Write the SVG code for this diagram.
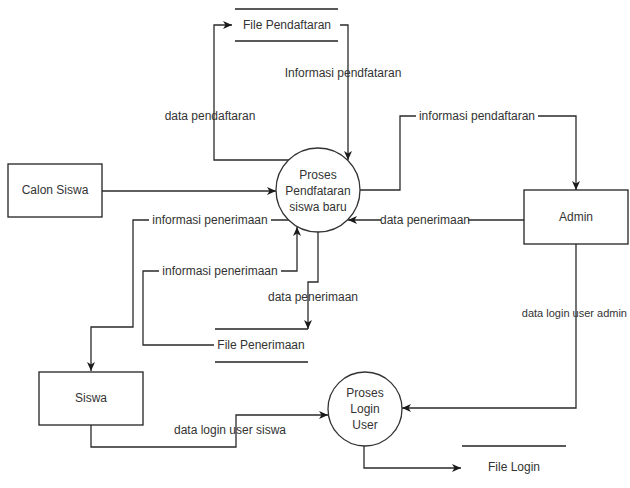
<svg xmlns="http://www.w3.org/2000/svg" width="630" height="488" viewBox="0 0 630 488">
  <style>
    .bg { fill: #ffffff; }
    .box { fill: #ffffff; stroke: #222222; stroke-width: 1.3; }
    .proc { fill: #ffffff; stroke: #333333; stroke-width: 1.3; }
    .store { stroke: #222222; stroke-width: 1.3; }
    .flow { fill: none; stroke: #2a2a2a; stroke-width: 1.3; }
    .arrow { marker-end: url(#head); }
    text { font-family: "Liberation Sans", Arial, sans-serif; font-size: 12px; fill: #333333; text-anchor: middle; dominant-baseline: central; }
    .lblbg { fill: #ffffff; }
  </style>
  <defs>
    <marker id="head" markerUnits="userSpaceOnUse" markerWidth="10" markerHeight="10" refX="9" refY="4" orient="auto">
      <path d="M0,0 L9,4 L0,8 L2.5,4 Z" fill="#1a1a1a"/>
    </marker>
  </defs>
  <rect class="bg" x="0" y="0" width="630" height="488"/>

  <!-- data flows -->
  <g id="connectors">
    <path class="flow arrow" d="M 289,160 H 214 V 25 H 232"/>
    <path class="flow arrow" d="M 340,25 H 348 V 160"/>
    <path class="flow arrow" d="M 102,191 H 276"/>
    <path class="flow arrow" d="M 360,190 H 400 V 116 H 576 V 190"/>
    <path class="flow arrow" d="M 524,220 H 348"/>
    <path class="flow arrow" d="M 289,220 H 133 V 327 H 91 V 371"/>
    <path class="flow arrow" d="M 214,345 H 143 V 271 H 297 V 227"/>
    <path class="flow arrow" d="M 318,232 V 282 H 308 V 329"/>
    <path class="flow arrow" d="M 576,244 V 408 H 402"/>
    <path class="flow arrow" d="M 91,425 V 447 H 236 V 415 H 328"/>
    <path class="flow arrow" d="M 364,446 V 468 H 461"/>

    <!-- flow labels -->
    <text x="210" y="116">data pendaftaran</text>
    <text x="343" y="73">Informasi pendfataran</text>
    <rect class="lblbg" x="416" y="109" width="122" height="14"/>
    <text x="477" y="116">informasi pendaftaran</text>
    <rect class="lblbg" x="381" y="213" width="87" height="14"/>
    <text x="425" y="220">data penerimaan</text>
    <rect class="lblbg" x="149" y="213" width="122" height="14"/>
    <text x="210" y="220">informasi penerimaan</text>
    <rect class="lblbg" x="159" y="264" width="122" height="14"/>
    <text x="220" y="271">informasi penerimaan</text>
    <text x="313" y="297">data penerimaan</text>
    <text x="627" y="313" style="text-anchor: end; font-size: 11px">data login user admin</text>
    <text x="230" y="430">data login user siswa</text>
  </g>

  <!-- external entities -->
  <g id="calon-siswa">
    <rect class="box" x="8" y="164" width="94" height="53"/>
    <text x="55" y="190">Calon Siswa</text>
  </g>
  <g id="admin">
    <rect class="box" x="524" y="190" width="104" height="54"/>
    <text x="576" y="217">Admin</text>
  </g>
  <g id="siswa">
    <rect class="box" x="39" y="372" width="104" height="53"/>
    <text x="91" y="398">Siswa</text>
  </g>

  <!-- processes -->
  <g id="proses-pendaftaran">
    <circle class="proc" cx="318" cy="190" r="42"/>
    <text x="318" y="175">Proses</text>
    <text x="318" y="191">Pendfataran</text>
    <text x="318" y="207">siswa baru</text>
  </g>
  <g id="proses-login">
    <circle class="proc" cx="365" cy="409" r="37"/>
    <text x="365" y="393">Proses</text>
    <text x="365" y="409">Login</text>
    <text x="365" y="425">User</text>
  </g>

  <!-- data stores -->
  <g id="file-pendaftaran">
    <line class="store" x1="235" y1="9" x2="338" y2="9"/>
    <line class="store" x1="235" y1="41" x2="338" y2="41"/>
    <text x="287" y="25">File Pendaftaran</text>
  </g>
  <g id="file-penerimaan">
    <line class="store" x1="215" y1="329" x2="308" y2="329"/>
    <line class="store" x1="215" y1="362" x2="308" y2="362"/>
    <text x="261" y="345">File Penerimaan</text>
  </g>
  <g id="file-login">
    <line class="store" x1="462" y1="446" x2="566" y2="446"/>
    <text x="514" y="467">File Login</text>
  </g>
</svg>
